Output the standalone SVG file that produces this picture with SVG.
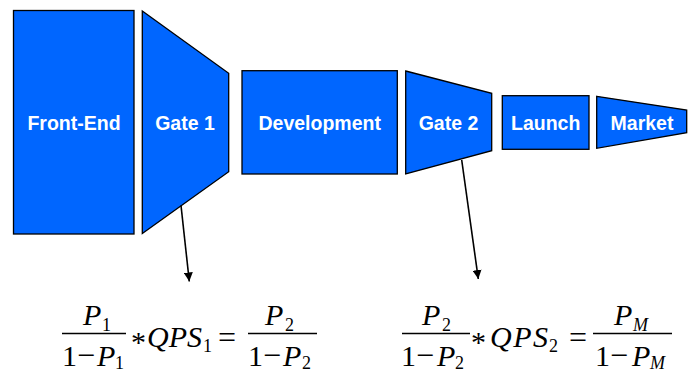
<svg xmlns="http://www.w3.org/2000/svg" width="694" height="372" viewBox="0 0 694 372">
  <style>
    .stage { fill: #0066ff; stroke: #000; stroke-width: 1.3; stroke-linejoin: miter; }
    .label { fill: #fff; font-family: "Liberation Sans", Arial, sans-serif; font-weight: bold; font-size: 19.5px; text-anchor: middle; }
    .conn { stroke: #000; stroke-width: 1.6; fill: none; }
    .math { font-family: "Liberation Serif", "Times New Roman", serif; font-size: 30px; fill: #000; }
    .it { font-style: italic; }
    .sub { font-size: 18px; }
    .op { font-size: 32px; }
    .bar { stroke: #000; stroke-width: 1.5; }
  </style>
  <defs>
    <marker id="arrow" viewBox="0 0 10 10" refX="10" refY="5" markerWidth="9" markerHeight="9" markerUnits="userSpaceOnUse" orient="auto">
      <path d="M0,0 L10,5 L0,10 z" fill="#000"/>
    </marker>
  </defs>

  <!-- funnel stages -->
  <g id="front-end">
    <rect class="stage" x="13.5" y="10.5" width="120.5" height="223.5"/>
    <text class="label" x="74" y="130">Front-End</text>
  </g>
  <g id="gate-1">
    <polygon class="stage" points="142.3,11 228.7,73.3 228.7,171.7 142.3,233.5"/>
    <text class="label" x="185" y="130">Gate 1</text>
  </g>
  <g id="development">
    <rect class="stage" x="242" y="70.7" width="155.3" height="103.3"/>
    <text class="label" x="319.7" y="130">Development</text>
  </g>
  <g id="gate-2">
    <polygon class="stage" points="405.7,71 491.7,93.3 491.7,150.7 405.7,174"/>
    <text class="label" x="448.5" y="130">Gate 2</text>
  </g>
  <g id="launch">
    <rect class="stage" x="502.3" y="95.7" width="86.7" height="53.6"/>
    <text class="label" x="545.7" y="129.5">Launch</text>
  </g>
  <g id="market">
    <polygon class="stage" points="596.7,96.3 686.7,110 686.7,132.7 596.7,148.3"/>
    <text class="label" x="642" y="129.5">Market</text>
  </g>

  <!-- connectors from the gates to their formulas -->
  <g id="connectors">
    <line class="conn" x1="181" y1="205.5" x2="189.3" y2="281.5" marker-end="url(#arrow)"/>
    <line class="conn" x1="461.7" y1="160" x2="478.3" y2="279" marker-end="url(#arrow)"/>
  </g>

  <!-- gate 1 formula -->
  <g id="formula-1" class="math">
    <text class="it" x="83" y="325">P</text>
    <text class="sub" x="102" y="331">1</text>
    <line class="bar" x1="62" y1="333.5" x2="126" y2="333.5"/>
    <text x="62" y="366">1</text>
    <text class="op" x="77" y="366">−</text>
    <text class="it" x="97" y="366">P</text>
    <text class="sub" x="115" y="369">1</text>
    <text x="131" y="352">*</text>
    <text class="it" x="147" y="347">QPS</text>
    <text class="sub" x="203" y="352">1</text>
    <text class="op" x="218" y="348">=</text>
    <text class="it" x="265" y="325">P</text>
    <text class="sub" x="285" y="331">2</text>
    <line class="bar" x1="248" y1="333.5" x2="317" y2="333.5"/>
    <text x="248" y="366">1</text>
    <text class="op" x="263" y="366">−</text>
    <text class="it" x="283" y="366">P</text>
    <text class="sub" x="302" y="369">2</text>
  </g>

  <!-- gate 2 formula -->
  <g id="formula-2" class="math">
    <text class="it" x="422" y="325">P</text>
    <text class="sub" x="442" y="331">2</text>
    <line class="bar" x1="402" y1="333.5" x2="470" y2="333.5"/>
    <text x="401" y="366">1</text>
    <text class="op" x="416" y="366">−</text>
    <text class="it" x="437" y="366">P</text>
    <text class="sub" x="455" y="369">2</text>
    <text x="471" y="352">*</text>
    <text class="it" x="490" y="347" letter-spacing="1.5">QPS</text>
    <text class="sub" x="549" y="352">2</text>
    <text class="op" x="569" y="348">=</text>
    <text class="it" x="614" y="325">P</text>
    <text class="sub it" x="633" y="331">M</text>
    <line class="bar" x1="593" y1="333.5" x2="672" y2="333.5"/>
    <text x="595" y="366">1</text>
    <text class="op" x="610" y="366">−</text>
    <text class="it" x="632" y="366">P</text>
    <text class="sub it" x="650" y="369">M</text>
  </g>
</svg>
